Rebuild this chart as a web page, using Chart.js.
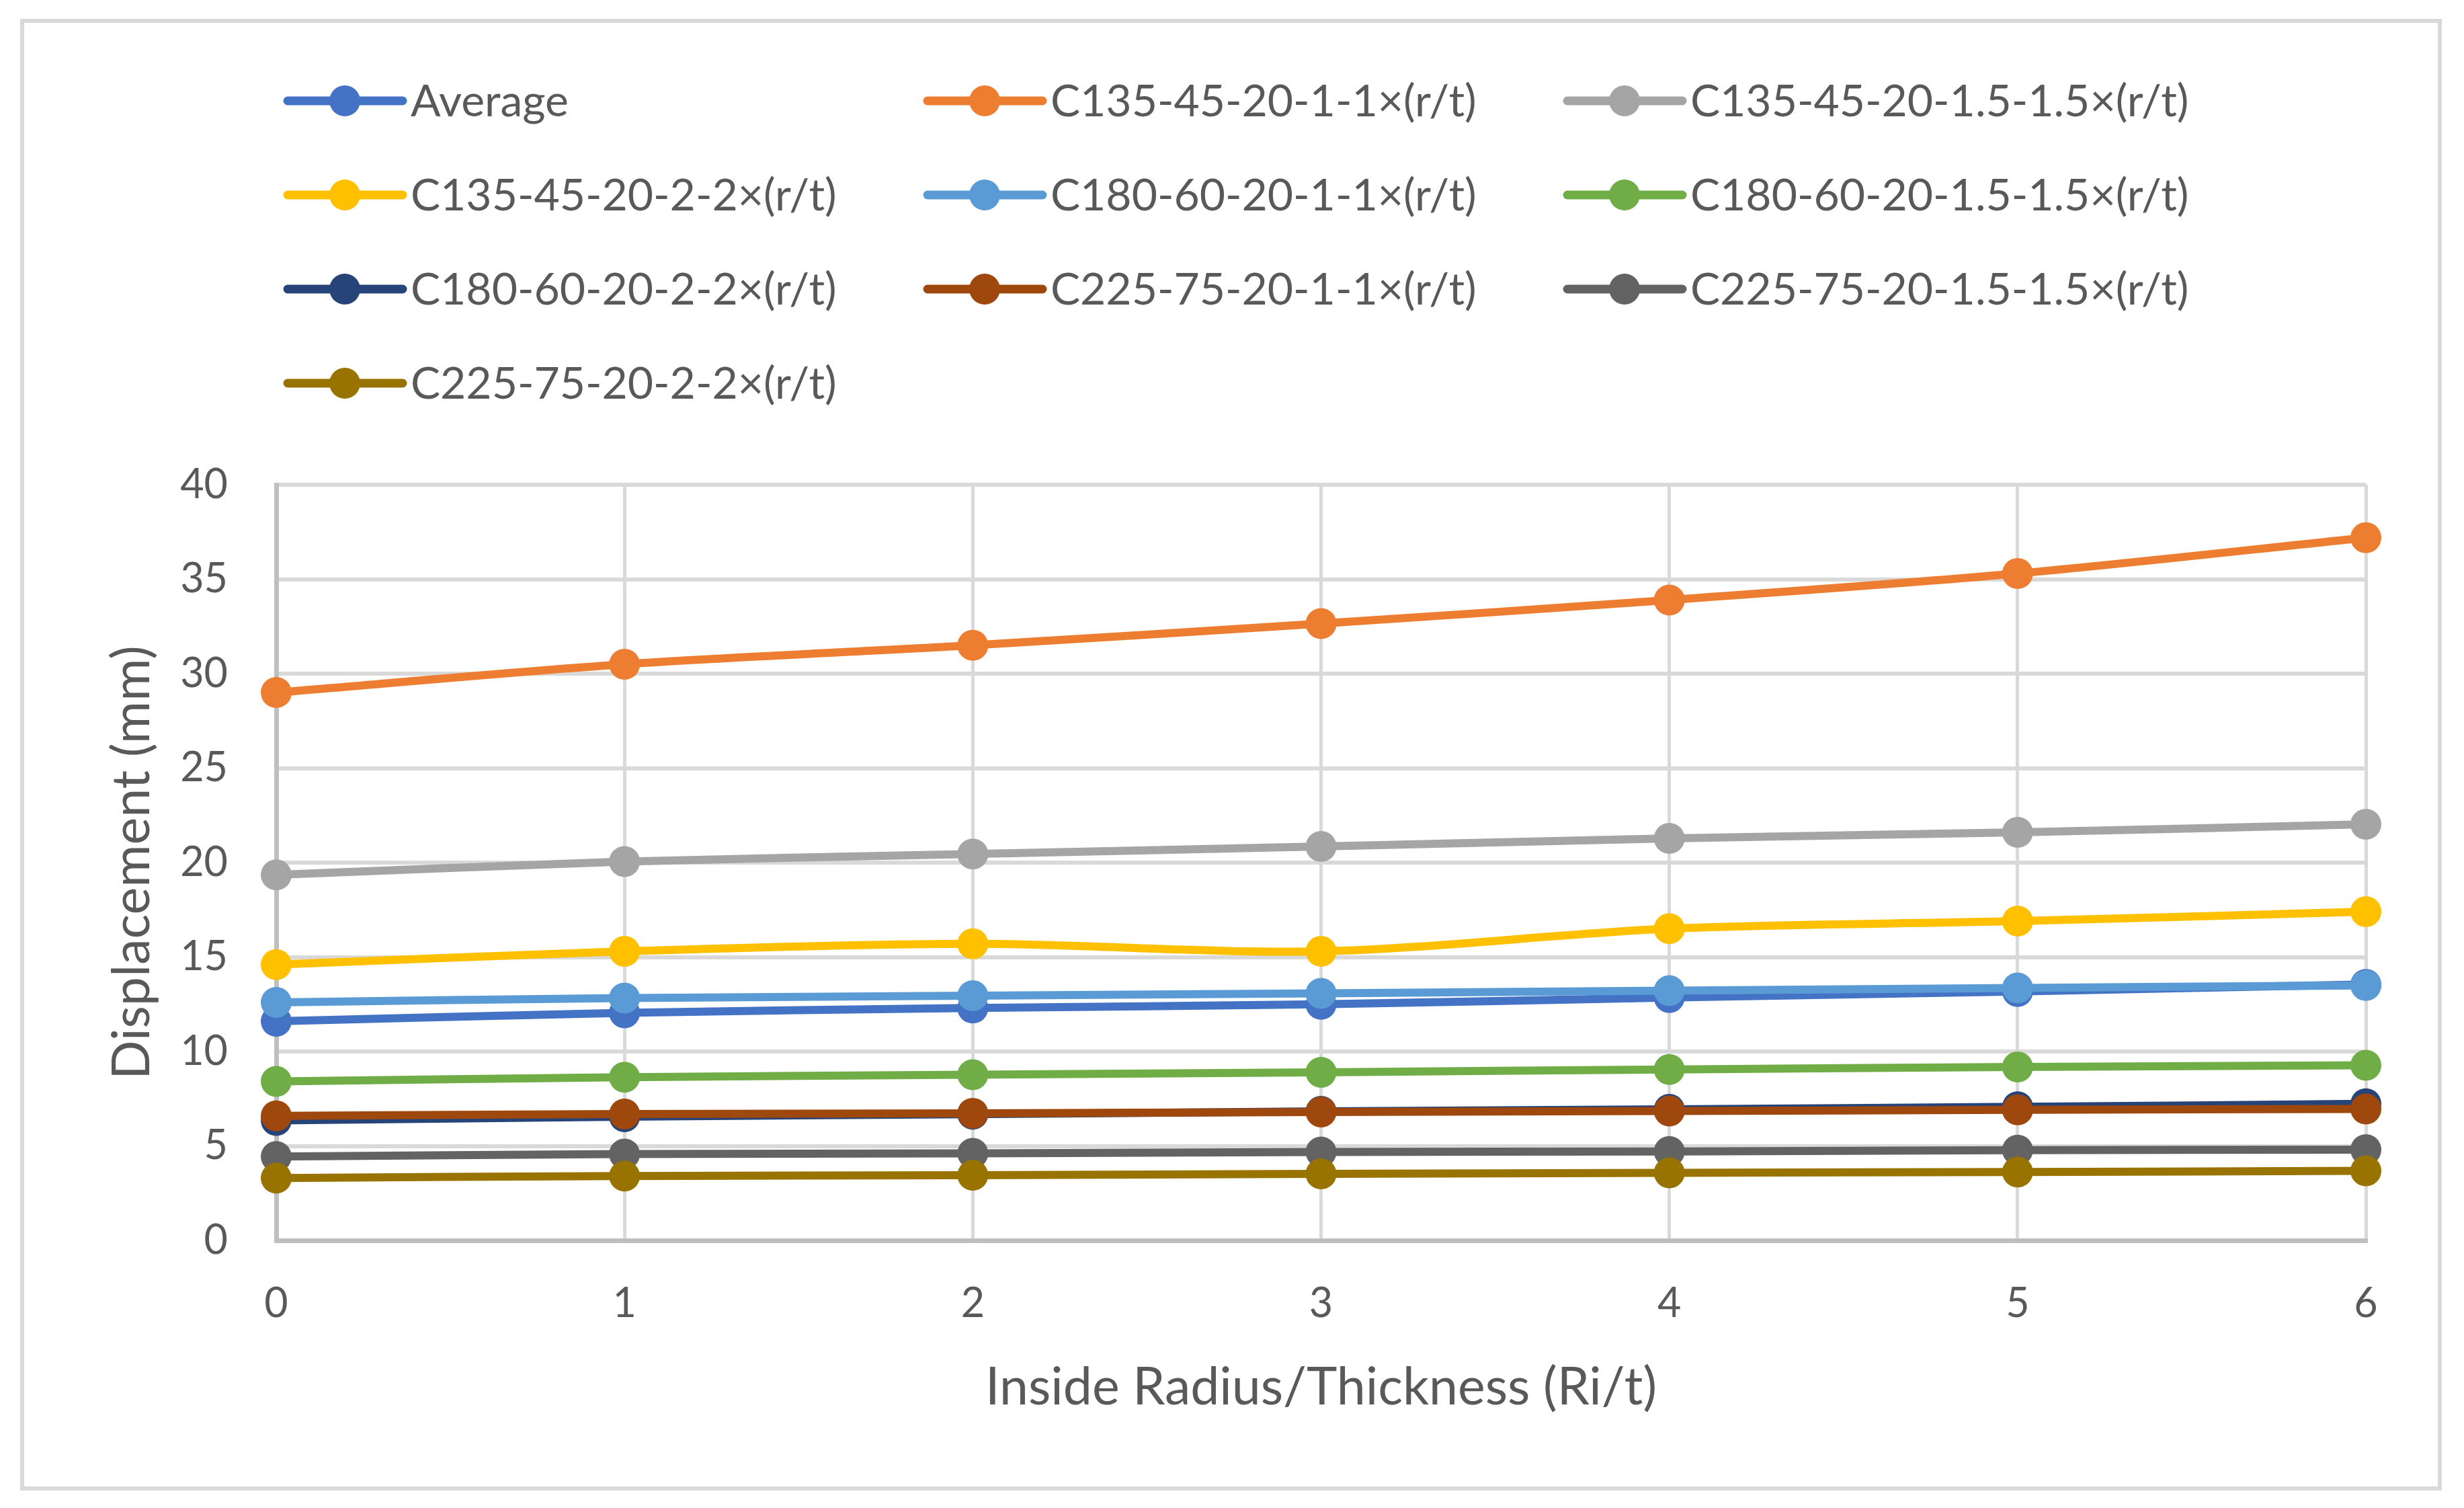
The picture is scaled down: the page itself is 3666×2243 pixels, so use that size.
<!DOCTYPE html>
<html>
<head>
<meta charset="utf-8">
<script src="https://cdn.jsdelivr.net/npm/chart.js@4.4.0/dist/chart.umd.min.js"></script>
<style>
  html, body { margin: 0; padding: 0; background: #fff; }
  canvas { display: block; }
</style>
</head>
<body>
<canvas id="chart" width="3666" height="2243" style="width:3666px;height:2243px"></canvas>
<script>
// x categories (Ri/t)
const xLabels = ["0", "1", "2", "3", "4", "5", "6"];

const seriesNames = [
  "Average",
  "C135-45-20-1-1×(r/t)",
  "C135-45-20-1.5-1.5×(r/t)",
  "C135-45-20-2-2×(r/t)",
  "C180-60-20-1-1×(r/t)",
  "C180-60-20-1.5-1.5×(r/t)",
  "C180-60-20-2-2×(r/t)",
  "C225-75-20-1-1×(r/t)",
  "C225-75-20-1.5-1.5×(r/t)",
  "C225-75-20-2-2×(r/t)"
];

const seriesColors = ["#4472C4", "#ED7D31", "#A5A5A5", "#FFC000", "#5B9BD5",
                      "#70AD47", "#264478", "#9E480E", "#636363", "#997300"];

// displacement values (mm)
const average     = [11.6, 12.05, 12.3, 12.5, 12.86, 13.18, 13.55];
const c135_1      = [29.0, 30.5, 31.5, 32.65, 33.9, 35.3, 37.2];
const c135_15     = [19.35, 20.05, 20.45, 20.85, 21.28, 21.6, 22.03];
const c135_2      = [14.6, 15.3, 15.7, 15.3, 16.5, 16.9, 17.4];
const c180_1      = [12.6, 12.83, 12.95, 13.08, 13.22, 13.36, 13.5];
const c180_15     = [8.42, 8.64, 8.77, 8.9, 9.05, 9.18, 9.27];
const c180_2      = [6.35, 6.55, 6.68, 6.83, 6.94, 7.07, 7.23];
const c225_1      = [6.59, 6.69, 6.73, 6.8, 6.85, 6.91, 6.96];
const c225_15     = [4.44, 4.57, 4.61, 4.68, 4.71, 4.78, 4.8];
const c225_2      = [3.3, 3.41, 3.45, 3.52, 3.58, 3.62, 3.68];

const seriesValues = [average, c135_1, c135_15, c135_2, c180_1, c180_15, c180_2, c225_1, c225_15, c225_2];

const yTicks = { min: 0, max: 40, step: 5 };

const TEXT = "#595959";
const FONT = "Lato";

// frame around the whole chart
const frame = {
  id: "frame",
  beforeDraw(chart) {
    const ctx = chart.ctx;
    ctx.save();
    ctx.fillStyle = "#fff";
    ctx.fillRect(0, 0, chart.width, chart.height);
    ctx.strokeStyle = "#D9D9D9";
    ctx.lineWidth = 6;
    ctx.strokeRect(33, 31, 3597, 2183);
    ctx.restore();
  }
};

// Excel style legend: 3 columns, line + marker
const gridLegend = {
  id: "gridLegend",
  afterDraw(chart) {
    const ctx = chart.ctx;
    chart.data.datasets.forEach((ds, i) => {
      const col = i % 3, row = Math.floor(i / 3);
      const x = 428 + col * 952, y = 150 + row * 140;
      ctx.save();
      ctx.strokeStyle = ds.borderColor;
      ctx.lineWidth = 13;
      ctx.lineCap = "round";
      ctx.beginPath();
      ctx.moveTo(x, y);
      ctx.lineTo(x + 171, y);
      ctx.stroke();
      ctx.fillStyle = ds.borderColor;
      ctx.beginPath();
      ctx.arc(x + 85, y, 23, 0, Math.PI * 2);
      ctx.fill();
      ctx.fillStyle = TEXT;
      ctx.font = "66px " + FONT;
      ctx.textBaseline = "middle";
      ctx.fillText(ds.label, x + 183, y + 2);
      ctx.restore();
    });
  }
};

const datasets = seriesNames.map((name, i) => ({
  label: name,
  data: seriesValues[i],
  borderColor: seriesColors[i],
  backgroundColor: seriesColors[i],
  borderWidth: 12,
  pointRadius: 23,
  pointBorderWidth: 0,
  pointHoverRadius: 23,
  tension: 0.3,
  fill: false,
  order: seriesNames.length - i   // later series drawn on top, as in Excel
}));

new Chart(document.getElementById("chart"), {
  type: "line",
  data: { labels: xLabels, datasets },
  options: {
    responsive: false,
    animation: false,
    devicePixelRatio: 1,
    layout: { padding: { left: 33, top: 721, right: 146, bottom: 30 } },
    plugins: {
      legend: { display: false },
      tooltip: { enabled: false }
    },
    scales: {
      x: {
        type: "category",
        offset: false,
        grid: { color: "#D9D9D9", lineWidth: 5, drawTicks: false },
        border: { color: "#BFBFBF", width: 7 },
        ticks: { color: TEXT, font: { family: FONT, size: 61 }, padding: 58, maxRotation: 0 },
        title: {
          display: true,
          text: "Inside Radius/Thickness (Ri/t)",
          color: TEXT,
          font: { family: FONT, size: 77 },
          padding: { top: 0, bottom: 103 }
        },
        afterFit: s => { s.height = 368; }
      },
      y: {
        min: yTicks.min,
        max: yTicks.max,
        grid: { color: "#D9D9D9", lineWidth: 6, drawTicks: false },
        border: { color: "#BFBFBF", width: 7 },
        ticks: { stepSize: yTicks.step, color: TEXT, font: { family: FONT, size: 61 }, padding: 72 },
        title: {
          display: true,
          text: "Displacement (mm)",
          color: TEXT,
          font: { family: FONT, size: 77 },
          padding: { top: 118, bottom: 0 }
        },
        afterFit: s => { s.width = 378; }
      }
    }
  },
  plugins: [frame, gridLegend]
});
</script>
</body>
</html>
